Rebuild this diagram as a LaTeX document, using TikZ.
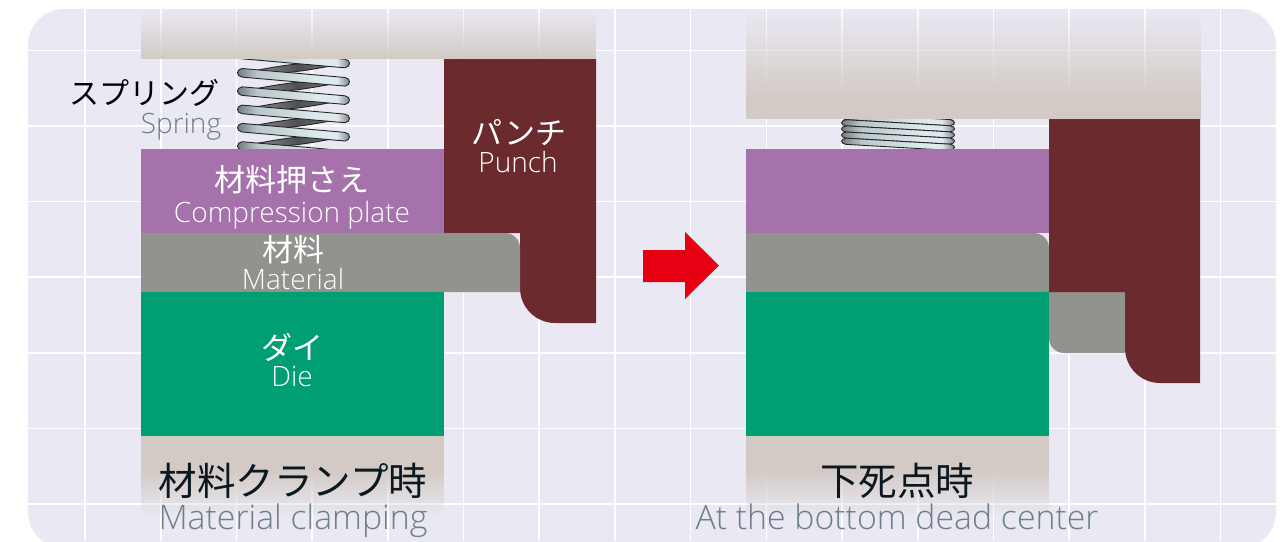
\documentclass[tikz,border=0pt]{standalone}
\usepackage{fontspec}
\setmainfont{Open Sans Light}
\newfontfamily\cjk{Noto Sans CJK JP}
\usetikzlibrary{fadings}
\definecolor{panelc}{HTML}{EAE9F3}
\definecolor{platec}{HTML}{D3CAC5}
\definecolor{punchc}{HTML}{6B2A2E}
\definecolor{purplec}{HTML}{A672AC}
\definecolor{grayc}{HTML}{91938F}
\definecolor{diec}{HTML}{009E73}
\definecolor{redc}{HTML}{E60012}
\definecolor{inkc}{HTML}{0B1820}
\definecolor{subc}{HTML}{6B8089}
\definecolor{coilend}{HTML}{6F7577}
\definecolor{coilmid}{HTML}{DDE9ED}
\definecolor{coilmidb}{HTML}{B9C6CA}
\definecolor{backend}{HTML}{9A9D9E}
\definecolor{backmid}{HTML}{4E5153}
\pgfdeclarehorizontalshading{coilshade}{100bp}{color(0bp)=(coilend); color(25bp)=(coilend); color(34bp)=(coilmidb); color(60bp)=(coilmid); color(69bp)=(coilmid); color(75bp)=(coilend); color(100bp)=(coilend)}
\pgfdeclarehorizontalshading{backshade}{100bp}{color(0bp)=(backend); color(25bp)=(backend); color(52bp)=(backmid); color(75bp)=(backend!80!black); color(100bp)=(backend)}
\tikzfading[name=fadein, top color=transparent!100, middle color=transparent!35, bottom color=transparent!0]
\tikzfading[name=fadeout, top color=transparent!0, bottom color=transparent!100]
\tikzset{
  gridline/.style={white,line width=1.6pt},
  labelwhite/.style={white,inner sep=0pt},
  jpl/.style={font=\cjk\fontsize{31}{31}\selectfont},
  enl/.style={anchor=base,font=\fontsize{28}{28}\selectfont},
  jpb/.style={inner sep=0pt,text=inkc,font=\cjk\fontsize{38.5}{39}\selectfont},
  enb/.style={anchor=base,inner sep=0pt,text=subc,font=\fontsize{33.8}{34}\selectfont},
  coilfront/.style={draw=black!85,line width=0.9pt,shading=coilshade,shading angle=0},
  coilback/.style={draw=black!85,line width=0.9pt,shading=backshade,shading angle=0},
}
% coil: x0 x1 yleft yright half-thickness
\newcommand{\frontcoil}[5]{%
  \path[coilfront] (#1+5,#3-#5) -- (#2-5,#4-#5)
    .. controls (#2+1,#4-#5+1) and (#2+1,#4+#5-1) .. (#2-5,#4+#5)
    -- (#1+5,#3+#5)
    .. controls (#1-1,#3+#5-1) and (#1-1,#3-#5+1) .. (#1+5,#3-#5) -- cycle;}
\newcommand{\backcoil}[4]{%
  \path[coilback] (#2-3,#4) .. controls (#2-40,#4-3) and (#1+40,#3-7) .. (#1+3,#3)
    .. controls (#1+40,#3+3) and (#2-40,#4+7) .. (#2-3,#4) -- cycle;}
\begin{document}
\begin{tikzpicture}[x=1pt,y=-1pt]
\useasboundingbox (0,0) rectangle (1285,541);
\clip (0,0) rectangle (1285,541);
% panel
\fill[panelc,rounded corners=36pt] (28,9) rectangle (1276,548);
\begin{scope}
  \clip[rounded corners=36pt] (28,9) rectangle (1276,548);
  \foreach \gx in {85,160.7,236.4,312.1,387.8,463.5,539.2,614.9,690.6,766.3,842,917.7,993.4,1069.1,1144.8,1220.5}
    \draw[gridline] (\gx,0) -- (\gx,541);
  \foreach \gy in {50.5,126,201.6,277.2,352.8,428.4,504}
    \draw[gridline] (0,\gy) -- (1285,\gy);
\end{scope}
% LEFT
\fill[platec,path fading=fadein] (141,9) rectangle (596,59);
% left spring
\begin{scope}
  \clip (230,59) rectangle (355,149);
  \foreach \i in {0,...,5} {
    \pgfmathsetmacro{\yl}{54.5+18.3*\i}
    \pgfmathsetmacro{\yr}{63.5+18.3*\i}
    \pgfmathsetmacro{\yn}{54.5+18.3*(\i+1)}
    \backcoil{240}{347}{\yn}{\yr}
    \frontcoil{237}{350}{\yl}{\yr}{4.3}
  }
\end{scope}
\path[fill=punchc] (444,59) -- (596,59) -- (596,323) -- (555,323)
  .. controls (535.7,323) and (520,307.3) .. (520,288) -- (520,233) -- (444,233) -- cycle;
\fill[purplec] (141,149) rectangle (444,233);
\path[fill=grayc] (141,233) -- (505,233) .. controls (513.3,233) and (520,239.7) .. (520,248) -- (520,292) -- (141,292) -- cycle;
\fill[diec] (141,292) rectangle (444,436);
\fill[platec] (141,436) rectangle (444,470);
\fill[platec,path fading=fadeout] (141,470) rectangle (444,516);
% RIGHT
\fill[platec,path fading=fadein] (746,9) rectangle (1201,100);
\fill[platec] (746,100) rectangle (1201,119);
\begin{scope}
  \clip (835,119) rectangle (960,149);
  \foreach \i in {0,...,5} {
    \pgfmathsetmacro{\yl}{110.5+6.15*\i}
    \pgfmathsetmacro{\yr}{116.5+6.15*\i}
    \frontcoil{841}{955}{\yl}{\yr}{3.1}
  }
\end{scope}
\fill[purplec] (746,149) rectangle (1049,233);
\path[fill=grayc] (746,233) -- (1034,233) .. controls (1042.3,233) and (1049,239.7) .. (1049,248) -- (1049,292) -- (746,292) -- cycle;
\path[fill=grayc] (1049,292) -- (1125,292) -- (1125,353) -- (1064,353) .. controls (1055.7,353) and (1049,346.3) .. (1049,338) -- cycle;
\path[fill=punchc] (1049,119) -- (1200,119) -- (1200,383) -- (1160,383)
  .. controls (1140.7,383) and (1125,367.3) .. (1125,348) -- (1125,292) -- (1049,292) -- cycle;
\fill[diec] (746,292) rectangle (1049,436);
\fill[platec] (746,436) rectangle (1049,470);
\fill[platec,path fading=fadeout] (746,470) rectangle (1049,516);
% arrow
\path[fill=redc] (643,250) -- (685,250) -- (685,232) -- (719,265.5) -- (685,299) -- (685,282) -- (643,282) -- cycle;
% labels
\node[inner sep=0pt,text=black,font=\cjk\fontsize{30}{31}\selectfont] (springj) at (144.5,93) {スプリング};
\node[inner sep=0pt,text=subc,enl] (springe) at (181,133) {Spring};
\node[labelwhite,jpl] (punchj) at (519,133) {パンチ};
\node[labelwhite,enl] (punche) at (518,172) {Punch};
\node[labelwhite,jpl] (compj) at (292,180) {材料押さえ};
\node[labelwhite,enl] (compe) at (292,222) {Compression plate};
\node[labelwhite,jpl] (matj) at (293,250) {材料};
\node[labelwhite,enl] (mate) at (293,289) {Material};
\node[labelwhite,jpl] (diej) at (292,347) {ダイ};
\node[labelwhite,enl] (diee) at (292,386) {Die};
\node[jpb] (clampj) at (293,481) {材料クランプ時};
\node[enb] (clampe) at (293,529) {Material clamping};
\node[jpb] (bdcj) at (897,481) {下死点時};
\node[enb] (bdce) at (897,529) {At the bottom dead center};
\end{tikzpicture}
\end{document}
